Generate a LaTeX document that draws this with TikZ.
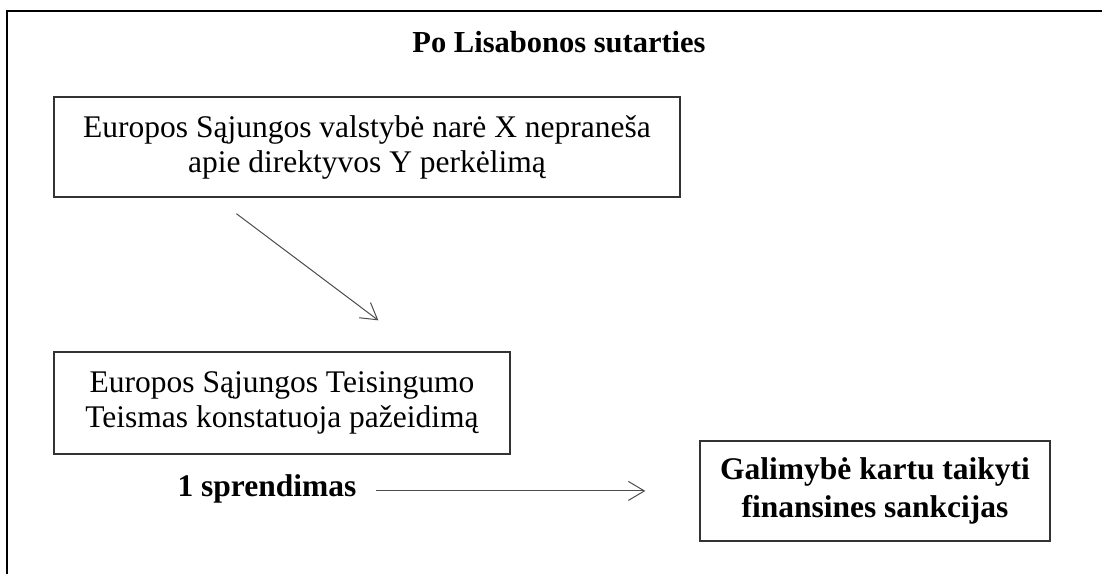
\documentclass[tikz,border=0pt]{standalone}
\usepackage{fontspec}
\setmainfont{Liberation Serif}
\usepackage{tikz}
\usetikzlibrary{arrows.meta, calc}

\begin{document}
\begin{tikzpicture}[x=0.5pt, y=-0.5pt,
    box/.style = {draw=black!80, line width=0.65pt, align=center, inner sep=0pt,
                  font=\fontsize{15.75pt}{17.5pt}\selectfont},
    boldbox/.style = {box, font=\fontsize{15.75pt}{19pt}\selectfont\bfseries},
    link/.style = {draw=black!70, line width=0.5pt, -{Straight Barb[length=8pt, width=9.5pt]}}]
    \useasboundingbox (0,0) rectangle (1102,573);

    % Cornice
    \draw[line width=1pt] (7,585) -- (7,11) -- (1115,11);

    % Titolo
    \node[anchor=base, font=\fontsize{15.25pt}{17pt}\selectfont\bfseries] (title) at (559,52) {Po Lisabonos sutarties};

    % Riquadri
    \node[box, minimum width=313pt, minimum height=50pt] (notice) at (367,147)
        {Europos Sąjungos valstybė narė X nepraneša\\apie direktyvos Y perkėlimą};
    \node[box, minimum width=228pt, minimum height=51pt] (court) at (282,403)
        {Europos Sąjungos Teisingumo\\Teismas konstatuoja pažeidimą};
    \node[boldbox, minimum width=175pt, minimum height=50pt] (sanctions) at (875,491)
        {Galimybė kartu taikyti\\finansines sankcijas};
    \node[anchor=base, font=\fontsize{15.75pt}{17.5pt}\selectfont\bfseries] (decision) at (267,496) {1 sprendimas};

    % Frecce
    \coordinate (noticeOut) at ($(notice.south west)+(183,16)$);
    \coordinate (courtIn) at ($(court.north west)+(325,-31)$);
    \draw[link] (noticeOut) -- (courtIn);
    \draw[link, shorten <=6.5pt, shorten >=27pt] ([yshift=-1.25pt]decision.east) -- ([yshift=-1.25pt]decision.east -| sanctions.west);
\end{tikzpicture}
\end{document}
